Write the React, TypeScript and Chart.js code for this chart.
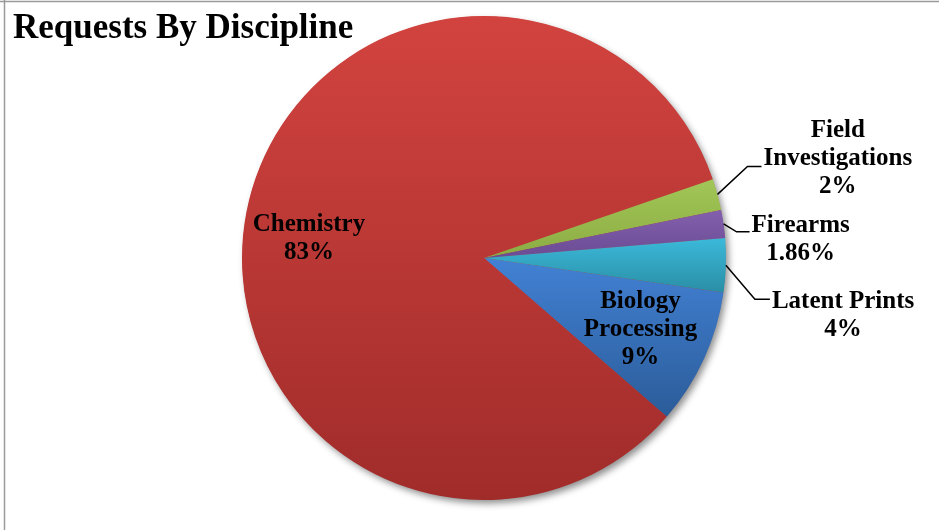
import React, { useEffect, useRef } from 'react';
import { Chart, registerables } from 'chart.js';

Chart.register(...registerables);

// ---- data ----
const chartTitle = 'Requests By Discipline';
const categories = ['Biology Processing', 'Chemistry', 'Field Investigations', 'Firearms', 'Latent Prints'];
const shares = [9.1, 83.34, 2.1, 1.86, 3.6];
const percentLabels = ['9%', '83%', '2%', '1.86%', '4%'];
const labelLines = [['Biology', 'Processing'], ['Chemistry'], ['Field', 'Investigations'], ['Firearms'], ['Latent Prints']];

// ---- style ----
const topColors = ['#4281D4', '#D2433F', '#A2C657', '#8360AD', '#3BB9DA'];
const bottomColors = ['#2B5C99', '#A02C2A', '#8BAC43', '#6B4B94', '#2A8EA5'];
const ROTATION = 98.2;
const FONT = '"Liberation Serif", "Times New Roman", serif';
const LINE_H = 28;

// label placement (layout only)
const labelPlacement: any[] = [
  { kind: 'inside', ratio: 0.72, dx: -2, dy: -2 },
  { kind: 'inside', ratio: 0.72, dx: -4, dy: 12 },
  { kind: 'outside', ex: 30, ey: -28, seg: 14, firstBaseline: -29 },
  { kind: 'outside', ex: 13, ey: 8, seg: 13, firstBaseline: 0 },
  { kind: 'outside', ex: 29, ey: 34, seg: 15, firstBaseline: 9 },
];

function sliceGradient(ctx: any) {
  const chart = ctx.chart;
  const i = ctx.dataIndex ?? 0;
  const area = chart.chartArea;
  if (!area) return topColors[i];
  const cx = (area.left + area.right) / 2;
  const cy = (area.top + area.bottom) / 2;
  const r = Math.min(area.right - area.left, area.bottom - area.top) / 2;
  const data = chart.data.datasets[0].data as number[];
  const total = data.reduce((a, b) => a + b, 0);
  let a0 = (ROTATION * Math.PI) / 180 - Math.PI / 2;
  for (let k = 0; k < i; k++) a0 += (2 * Math.PI * data[k]) / total;
  const a1 = a0 + (2 * Math.PI * data[i]) / total;
  let minY = Math.min(cy, cy + r * Math.sin(a0), cy + r * Math.sin(a1));
  let maxY = Math.max(cy, cy + r * Math.sin(a0), cy + r * Math.sin(a1));
  const contains = (t: number) => {
    let x = t;
    while (x < a0) x += 2 * Math.PI;
    while (x - 2 * Math.PI >= a0) x -= 2 * Math.PI;
    return x <= a1;
  };
  if (contains(Math.PI / 2)) maxY = cy + r;
  if (contains(-Math.PI / 2)) minY = cy - r;
  const g = chart.ctx.createLinearGradient(0, minY, 0, maxY);
  g.addColorStop(0, topColors[i]);
  g.addColorStop(1, bottomColors[i]);
  return g;
}

const framePlugin = {
  id: 'frame',
  beforeDraw(chart: any) {
    const { ctx, width, height } = chart;
    ctx.save();
    ctx.fillStyle = '#ffffff';
    ctx.fillRect(0, 0, width, height);
    ctx.strokeStyle = '#9a9a9a';
    ctx.lineWidth = 1.5;
    ctx.beginPath();
    ctx.moveTo(0, 1.5);
    ctx.lineTo(width, 1.5);
    ctx.moveTo(4.5, 0);
    ctx.lineTo(4.5, height);
    ctx.stroke();
    ctx.fillStyle = '#000';
    ctx.font = `bold 35px ${FONT}`;
    ctx.textAlign = 'left';
    ctx.textBaseline = 'alphabetic';
    ctx.fillText(chartTitle, 13, 38);
    ctx.restore();
  },
};

const shadowPlugin = {
  id: 'pieShadow',
  beforeDatasetsDraw(chart: any) {
    const arc = chart.getDatasetMeta(0).data[0];
    if (!arc) return;
    const { x, y, outerRadius } = arc.getProps(['x', 'y', 'outerRadius'], true);
    const ctx = chart.ctx;
    ctx.save();
    ctx.shadowColor = 'rgba(0,0,0,0.45)';
    ctx.shadowBlur = 7;
    ctx.shadowOffsetX = 3;
    ctx.shadowOffsetY = 4;
    ctx.beginPath();
    ctx.arc(x, y, outerRadius - 0.5, 0, Math.PI * 2);
    ctx.fillStyle = '#B83735';
    ctx.fill();
    ctx.restore();
  },
};

const labelPlugin = {
  id: 'sliceLabels',
  afterDatasetsDraw(chart: any) {
    const ctx = chart.ctx;
    const meta = chart.getDatasetMeta(0);
    ctx.save();
    ctx.font = `bold 25px ${FONT}`;
    ctx.fillStyle = '#000';
    ctx.strokeStyle = '#000';
    ctx.lineWidth = 1.5;
    ctx.textBaseline = 'alphabetic';
    ctx.textAlign = 'center';
    meta.data.forEach((el: any, i: number) => {
      const { x, y, startAngle, endAngle, outerRadius } = el.getProps(
        ['x', 'y', 'startAngle', 'endAngle', 'outerRadius'],
        true
      );
      const mid = (startAngle + endAngle) / 2;
      const lines = [...labelLines[i], percentLabels[i]];
      const p = labelPlacement[i];
      if (p.kind === 'inside') {
        const cx = x + Math.cos(mid) * outerRadius * p.ratio + p.dx;
        const cy = y + Math.sin(mid) * outerRadius * p.ratio + p.dy;
        lines.forEach((t, k) => {
          const by = cy + (k - (lines.length - 1) / 2) * LINE_H + 8;
          ctx.fillText(t, cx, by);
        });
      } else {
        const sx = x + Math.cos(mid) * outerRadius;
        const sy = y + Math.sin(mid) * outerRadius;
        const exx = sx + p.ex;
        const eyy = sy + p.ey;
        const endX = exx + p.seg;
        ctx.beginPath();
        ctx.moveTo(sx, sy);
        ctx.lineTo(exx, eyy);
        ctx.lineTo(endX, eyy);
        ctx.stroke();
        const maxW = Math.max(...lines.map((t) => ctx.measureText(t).width));
        const centerX = endX + 2 + maxW / 2;
        lines.forEach((t, k) => {
          ctx.fillText(t, centerX, eyy + p.firstBaseline + k * LINE_H);
        });
      }
    });
    ctx.restore();
  },
};

export default function App() {
  const canvasRef = useRef<HTMLCanvasElement | null>(null);

  useEffect(() => {
    if (!canvasRef.current) return;
    const chart = new Chart(canvasRef.current, {
      type: 'pie',
      data: {
        labels: categories,
        datasets: [
          {
            data: shares,
            backgroundColor: sliceGradient as any,
            borderWidth: 0,
          },
        ],
      },
      options: {
        responsive: false,
        animation: false,
        events: [],
        rotation: ROTATION,
        layout: { padding: { left: 29, right: 0, top: 16, bottom: 30 } },
        plugins: {
          legend: { display: false },
          tooltip: { enabled: false },
          title: { display: false },
        },
      },
      plugins: [framePlugin, shadowPlugin, labelPlugin],
    });
    return () => chart.destroy();
  }, []);

  return (
    <div style={{ position: 'fixed', left: 0, top: 0, width: 939, height: 530, background: '#fff' }}>
      <canvas ref={canvasRef} width={939} height={530} />
    </div>
  );
}
